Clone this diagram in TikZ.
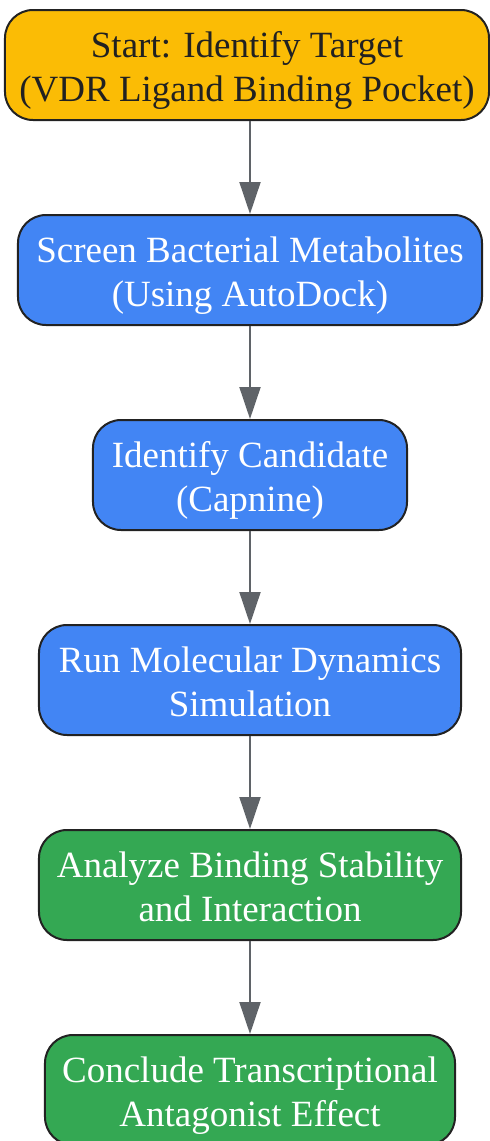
\documentclass[tikz,border=0pt]{standalone}
\usepackage{fontspec}
\setmainfont{Liberation Serif}
\usetikzlibrary{arrows.meta}
\definecolor{gyellow}{HTML}{FBBC05}
\definecolor{gblue}{HTML}{4285F4}
\definecolor{ggreen}{HTML}{34A853}
\definecolor{edge}{HTML}{222222}
\definecolor{arrowgray}{HTML}{5F6368}
\tikzset{
  box/.style={draw=edge, line width=2bp, rounded corners=28bp, align=center,
    minimum height=110bp, inner sep=0pt, text height=80bp, text depth=7bp,
    font=\fontsize{37bp}{44bp}\selectfont},
  ybox/.style={box, fill=gyellow, text=black!87},
  bbox/.style={box, fill=gblue, text=white},
  gbox/.style={box, fill=ggreen, text=white},
  flow/.style={draw=arrowgray, line width=2bp, -{Triangle[width=21bp,length=32bp]}}
}
\begin{document}
\begin{tikzpicture}[x=1bp,y=-1bp]
\useasboundingbox (0,0) rectangle (490,1141);
\node[ybox, minimum width=484bp] (n1) at (247,65) {Start: Identify Target\\(VDR Ligand Binding Pocket)};
\node[bbox, minimum width=464bp] (n2) at (250,270) {Screen Bacterial Metabolites\\(Using AutoDock)};
\node[bbox, minimum width=314bp] (n3) at (250,475) {Identify Candidate\\(Capnine)};
\node[bbox, minimum width=422bp] (n4) at (250,680) {Run Molecular Dynamics\\Simulation};
\node[gbox, minimum width=422bp] (n5) at (250,885) {Analyze Binding Stability\\and Interaction};
\node[gbox, minimum width=410bp] (n6) at (250,1090) {Conclude Transcriptional\\Antagonist Effect};
\draw[flow] (n1.south -| n2.north) -- (n2.north);
\draw[flow] (n2) -- (n3);
\draw[flow] (n3) -- (n4);
\draw[flow] (n4) -- (n5);
\draw[flow] (n5) -- (n6);
\end{tikzpicture}
\end{document}
